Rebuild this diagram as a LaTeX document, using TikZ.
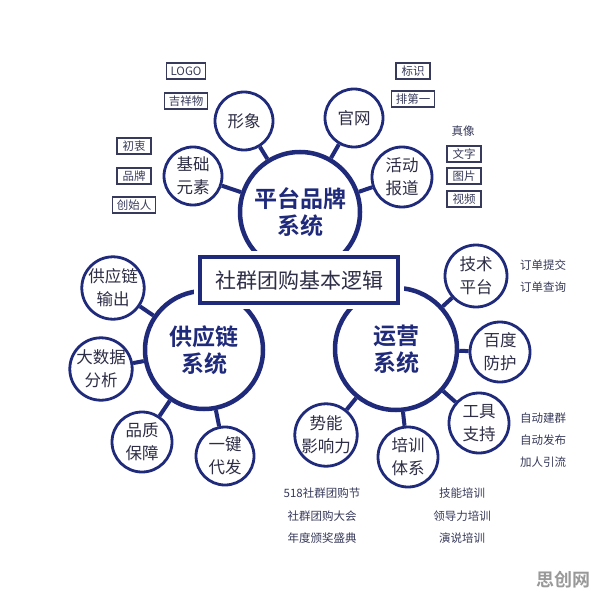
\documentclass[tikz,border=0pt]{standalone}
\usepackage{fontspec}
\newfontfamily\cjk{Noto Sans CJK SC}
\newfontfamily\cjkb{Noto Sans CJK SC Bold}
\definecolor{navy}{RGB}{32,42,122}
\definecolor{ink}{RGB}{45,45,70}
\definecolor{lab}{RGB}{55,58,90}
\begin{document}
\begin{tikzpicture}[x=1pt,y=-1pt,
  bigc/.style={circle, draw=navy, line width=4.5pt, fill=white, minimum size=#1, inner sep=0pt,
    text=navy, align=center, font=\cjkb\fontsize{23}{27}\selectfont},
  smallc/.style={circle, draw=navy, line width=2.8pt, fill=white, minimum size=#1, inner sep=0pt,
    text=ink, align=center, font=\cjk\fontsize{16.5}{23}\selectfont},
  conn/.style={draw=navy, line width=4pt},
  tagbox/.style={draw=lab, line width=1.1pt, text=lab, inner xsep=4pt, inner ysep=1.5pt,
    minimum width=34pt, minimum height=16pt, font=\cjk\fontsize{11.5}{13}\selectfont},
  tagtxt/.style={text=lab, inner sep=1pt, font=\cjk\fontsize{11.5}{13}\selectfont},
  titlebox/.style={draw=navy, line width=3.5pt, fill=white, minimum width=198pt, minimum height=46pt,
    text=ink, font=\cjk\fontsize{21}{24}\selectfont,
    preaction={draw=white, line width=12pt}}
]
\useasboundingbox[fill=white] (0,0) rectangle (596,596);

% big circles
\node[bigc=120pt] (plat) at (300,212) {平台品牌\\系统};
\node[bigc=118pt] (supp) at (204,350) {供应链\\系统};
\node[bigc=122pt] (oper) at (396,349) {运营\\系统};

% title box
\node[titlebox] (title) at (299,280) {社群团购基本逻辑};

% platform satellites
\node[smallc=58pt] (xx) at (244,121) {形象};
\node[smallc=58pt] (gw) at (354,118) {官网};
\node[smallc=60pt] (hd) at (402,177) {活动\\报道};
\node[smallc=58pt] (jc) at (193,176) {基础\\元素};

% supply satellites
\node[smallc=60pt] (gys) at (113,288) {供应链\\输出};
\node[smallc=62pt] (dsj) at (101,369) {大数据\\分析};
\node[smallc=60pt] (pz) at (142,442) {品质\\保障};
\node[smallc=58pt] (yj) at (225,456) {一键\\代发};

% operations satellites
\node[smallc=62pt] (js) at (476,276) {技术\\平台};
\node[smallc=60pt] (bd) at (500,352) {百度\\防护};
\node[smallc=60pt] (gj) at (479,423) {工具\\支持};
\node[smallc=60pt] (px) at (408,457) {培训\\体系};
\node[smallc=58pt] (sn) at (326,435) {势能\\影响力};

% connectors
\foreach \s in {xx,gw,hd,jc} \draw[conn] (\s) -- (plat);
\foreach \s in {gys,dsj,pz,yj} \draw[conn] (\s) -- (supp);
\foreach \s in {js,bd,gj,px,sn} \draw[conn] (\s) -- (oper);

% tag boxes
\node[tagbox] (logo) at (186,71) {LOGO};
\node[tagbox] (jxw) at (186,101) {吉祥物};
\node[tagbox] (cz) at (134,146) {初衷};
\node[tagbox] (pp) at (134,176) {品牌};
\node[tagbox] (csr) at (134,205) {创始人};
\node[tagbox] (bs) at (413,71) {标识};
\node[tagbox] (pdy) at (413,99) {排第一};
\node[tagtxt] (zx) at (463,131) {真像};
\node[tagbox] (wz) at (464,154) {文字};
\node[tagbox] (tp) at (464,176) {图片};
\node[tagbox] (sp) at (464,199) {视频};

% plain labels
\node[tagtxt] (ddtj) at (543,265) {订单提交};
\node[tagtxt] (ddcx) at (543,287) {订单查询};
\node[tagtxt] (zdjq) at (543,418) {自动建群};
\node[tagtxt] (zdfb) at (543,440) {自动发布};
\node[tagtxt] (jryl) at (543,462) {加人引流};
\node[tagtxt] (t518) at (322,493) {518社群团购节};
\node[tagtxt] (sqdh) at (322,516) {社群团购大会};
\node[tagtxt] (ndbj) at (322,538) {年度颁奖盛典};
\node[tagtxt] (jnpx) at (462,493) {技能培训};
\node[tagtxt] (ldl) at (462,516) {领导力培训};
\node[tagtxt] (ysp) at (462,538) {演说培训};

% watermark
\node[text=black!40, font=\cjkb\fontsize{18}{20}\selectfont, inner sep=0pt] (wm) at (563,580) {思创网};
\end{tikzpicture}
\end{document}
